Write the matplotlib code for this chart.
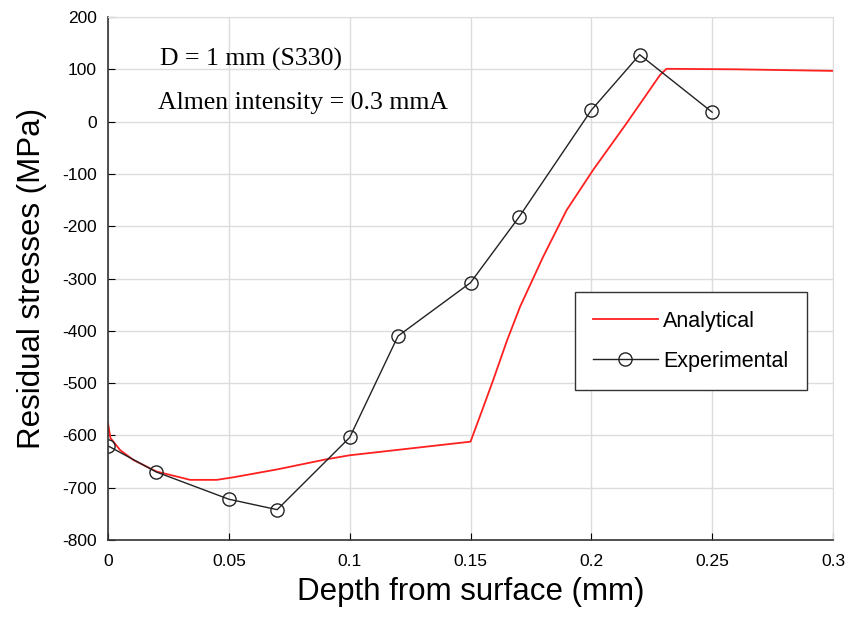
"""
Residual stress profile: analytical model vs experimental measurements.
"""

import matplotlib
matplotlib.use('Agg')
import matplotlib.pyplot as plt

# --- data
analytical_depth = [0.0, 0.001, 0.005, 0.0105, 0.02, 0.034, 0.045, 0.052, 0.07, 0.09, 0.1,
                    0.125, 0.15, 0.1545, 0.1594, 0.165, 0.1705, 0.1801, 0.1898, 0.2008,
                    0.2146, 0.2284, 0.2311, 0.26, 0.3]
analytical_stress = [-577, -605, -628, -647, -669, -685, -685, -680, -665, -646, -638,
                     -625, -612, -556, -494, -420, -354, -258, -169, -92,
                     -3, 89, 101, 100, 97]

exp_depth = [0.0, 0.02, 0.05, 0.07, 0.1, 0.12, 0.15, 0.17, 0.2, 0.22, 0.25]
exp_stress = [-620, -670, -722, -742, -604, -410, -308, -183, 22, 128, 18]

x_ticks = [0, 0.05, 0.1, 0.15, 0.2, 0.25, 0.3]
x_tick_labels = ['0', '0.05', '0.1', '0.15', '0.2', '0.25', '0.3']
y_ticks = list(range(-800, 201, 100))

plt.rcParams['font.family'] = ['Liberation Sans', 'DejaVu Sans']
plt.rcParams['axes.unicode_minus'] = False

fig = plt.figure(figsize=(8.6, 6.17), dpi=100)
ax = fig.add_axes([0.1256, 0.1248, 0.843, 0.8476])

ax.plot(analytical_depth, analytical_stress, color='#ff2020', lw=1.3, label='Analytical')
ax.plot(exp_depth, exp_stress, color='#222222', lw=1.0, marker='o', markersize=9.5,
        markerfacecolor='none', markeredgecolor='#222222', markeredgewidth=1.0,
        label='Experimental')

ax.set_xlim(0, 0.3)
ax.set_ylim(-800, 200)
ax.set_xticks(x_ticks)
ax.set_xticklabels(x_tick_labels)
ax.set_yticks(y_ticks)
ax.tick_params(direction='in', labelsize=12.5, length=5, top=False, right=False)
ax.tick_params(axis='x', pad=10)
ax.tick_params(axis='y', pad=8)
ax.grid(True, color='#dcdcdc', lw=1.0)
ax.set_axisbelow(True)
for side in ['top', 'right']:
    ax.spines[side].set_color('#dcdcdc')
for side in ['left', 'bottom']:
    ax.spines[side].set_color('#333333')
    ax.spines[side].set_linewidth(1.2)

ax.set_xlabel('Depth from surface (mm)', fontsize=22.5, labelpad=6)
ax.set_ylabel('Residual stresses (MPa)', fontsize=22.5, labelpad=11)

ax.text(0.0215, 118, 'D = 1 mm (S330)', fontsize=18.5, family='Liberation Serif', va='center')
ax.text(0.0205, 36, 'Almen intensity = 0.3 mmA', fontsize=18.5, family='Liberation Serif',
        va='center')

leg = ax.legend(loc='upper left', bbox_to_anchor=(0.644, 0.4736), fontsize=15.5,
                frameon=True, fancybox=False, edgecolor='#333333', framealpha=1,
                handlelength=3.0, handletextpad=0.25, borderpad=0.85, labelspacing=0.9,
                borderaxespad=0)
leg.get_frame().set_linewidth(1.0)

plt.savefig('out.png', dpi=100)
